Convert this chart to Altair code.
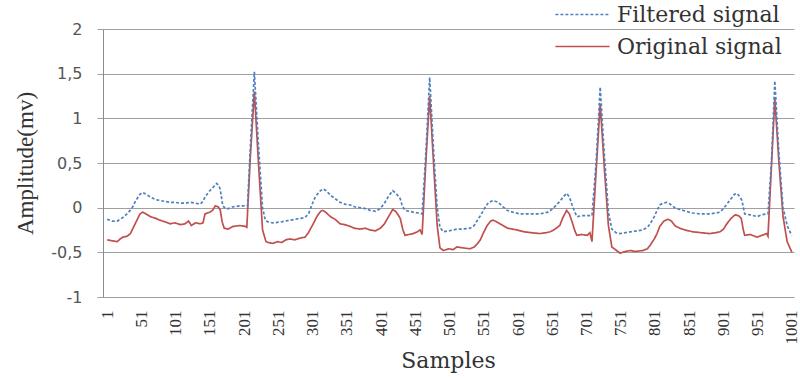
import altair as alt
import pandas as pd

# ---- data ----
orig_samples = [1, 8, 16, 20, 24, 30, 35, 42, 49, 53, 58, 64, 72, 78, 86, 93, 100, 108, 115, 120,
                124, 130, 137, 141, 144, 151, 155, 159, 163, 166, 169, 172, 178, 185, 195, 203, 205,
                210, 216, 222, 228, 233, 236, 243, 250, 256, 262, 268, 275, 283, 290, 295, 302, 308,
                313, 316, 320, 327, 334, 341, 348, 356, 362, 370, 378, 385, 393, 400, 406, 412, 418,
                422, 426, 429, 433, 436, 442, 448, 454, 458, 461, 466, 472, 478, 483, 487, 492, 500,
                506, 512, 520, 531, 537, 541, 546, 550, 556, 561, 565, 572, 579, 586, 593, 600, 610,
                620, 633, 642, 648, 655, 662, 666, 672, 676, 680, 684, 687, 694, 702, 706, 709, 715,
                721, 727, 733, 738, 745, 750, 758, 765, 772, 783, 790, 794, 800, 804, 808, 814, 820,
                825, 830, 837, 845, 856, 868, 881, 890, 896, 901, 906, 912, 918, 923, 927, 930, 932,
                940, 950, 957, 964, 966, 971, 976, 982, 988, 994, 998, 1001]
orig_values = [-0.36, -0.37, -0.38, -0.35, -0.33, -0.32, -0.29, -0.18, -0.07, -0.05, -0.07, -0.10,
               -0.12, -0.14, -0.16, -0.18, -0.17, -0.19, -0.18, -0.15, -0.20, -0.17, -0.18, -0.17,
               -0.07, -0.05, -0.03, 0.02, 0.01, -0.02, -0.16, -0.23, -0.24, -0.21, -0.20, -0.21,
               -0.22, 0.55, 1.30, 0.50, -0.25, -0.38, -0.39, -0.40, -0.38, -0.39, -0.36, -0.35,
               -0.36, -0.34, -0.33, -0.28, -0.18, -0.09, -0.04, -0.03, -0.05, -0.10, -0.13, -0.18,
               -0.19, -0.21, -0.23, -0.24, -0.23, -0.25, -0.26, -0.23, -0.18, -0.10, -0.02, -0.04,
               -0.08, -0.12, -0.25, -0.31, -0.30, -0.29, -0.27, -0.25, -0.30, 0.45, 1.25, 0.45,
               -0.20, -0.45, -0.48, -0.46, -0.47, -0.44, -0.45, -0.46, -0.44, -0.41, -0.36, -0.29,
               -0.20, -0.15, -0.14, -0.17, -0.20, -0.23, -0.24, -0.25, -0.27, -0.28, -0.29, -0.28,
               -0.27, -0.24, -0.20, -0.12, -0.03, -0.07, -0.16, -0.26, -0.31, -0.30, -0.31, -0.28,
               -0.38, 0.40, 1.16, 0.45, -0.20, -0.44, -0.48, -0.51, -0.49, -0.48, -0.49, -0.48,
               -0.46, -0.42, -0.35, -0.29, -0.21, -0.15, -0.13, -0.15, -0.20, -0.23, -0.25, -0.27,
               -0.28, -0.29, -0.28, -0.27, -0.24, -0.18, -0.12, -0.08, -0.09, -0.12, -0.25, -0.31,
               -0.30, -0.33, -0.31, -0.29, -0.32, 0.45, 1.22, 0.50, -0.10, -0.38, -0.45, -0.50]

filt_samples = [1, 8, 16, 24, 30, 37, 43, 49, 53, 58, 64, 72, 78, 86, 93, 100, 108, 115, 122, 130,
                137, 141, 144, 151, 156, 161, 164, 166, 170, 174, 178, 185, 195, 203, 206, 210, 216,
                222, 228, 232, 236, 243, 255, 268, 283, 290, 295, 300, 305, 311, 316, 321, 327, 334,
                341, 348, 356, 362, 370, 378, 385, 393, 400, 406, 412, 418, 423, 429, 432, 436, 442,
                448, 455, 461, 466, 472, 478, 483, 487, 492, 500, 512, 520, 531, 537, 541, 546, 552,
                558, 565, 572, 579, 585, 593, 604, 615, 633, 645, 652, 657, 662, 667, 672, 676, 680,
                684, 687, 694, 702, 709, 715, 721, 727, 733, 738, 744, 750, 758, 765, 775, 783, 790,
                794, 800, 804, 808, 813, 818, 823, 830, 837, 846, 856, 868, 881, 890, 896, 901, 906,
                912, 917, 921, 925, 928, 932, 940, 950, 957, 964, 966, 971, 976, 982, 988, 994, 998,
                1001]
filt_values = [-0.13, -0.15, -0.15, -0.11, -0.07, -0.01, 0.08, 0.15, 0.17, 0.15, 0.12, 0.09, 0.08,
               0.07, 0.06, 0.06, 0.05, 0.05, 0.06, 0.05, 0.04, 0.07, 0.12, 0.19, 0.23, 0.27, 0.25,
               0.21, 0.02, -0.01, -0.01, 0.01, 0.02, 0.02, 0.02, 0.65, 1.52, 0.70, 0.00, -0.14,
               -0.16, -0.17, -0.16, -0.14, -0.12, -0.11, -0.07, 0.03, 0.12, 0.18, 0.21, 0.19, 0.14,
               0.10, 0.06, 0.04, 0.03, 0.01, 0.00, -0.01, -0.03, -0.04, -0.01, 0.05, 0.13, 0.19,
               0.16, 0.10, 0.02, -0.03, -0.04, -0.05, -0.06, -0.07, 0.55, 1.46, 0.60, 0.00, -0.22,
               -0.27, -0.26, -0.24, -0.24, -0.23, -0.20, -0.15, -0.09, -0.01, 0.06, 0.08, 0.06,
               0.01, -0.03, -0.05, -0.07, -0.07, -0.07, -0.05, -0.01, 0.03, 0.07, 0.12, 0.16, 0.12,
               0.03, -0.05, -0.10, -0.09, -0.09, -0.09, 0.50, 1.35, 0.60, -0.05, -0.24, -0.28,
               -0.29, -0.28, -0.27, -0.26, -0.25, -0.22, -0.18, -0.10, -0.03, 0.03, 0.05, 0.06,
               0.04, 0.00, -0.02, -0.04, -0.06, -0.07, -0.07, -0.06, -0.05, -0.01, 0.04, 0.10,
               0.15, 0.16, 0.12, 0.08, -0.07, -0.08, -0.10, -0.08, -0.07, -0.07, 0.50, 1.42, 0.60,
               0.00, -0.20, -0.27, -0.31]

series_names = ["Filtered signal", "Original signal"]
series_colors = ["#4F81BD", "#C0504D"]
x_ticks = list(range(1, 1002, 50))
y_ticks = [-1, -0.5, 0, 0.5, 1, 1.5, 2]

df = pd.concat([
    pd.DataFrame({"sample": orig_samples, "value": orig_values, "series": "Original signal"}),
    pd.DataFrame({"sample": filt_samples, "value": filt_values, "series": "Filtered signal"}),
])

x_enc = alt.X("sample:Q",
              scale=alt.Scale(domain=[-5, 1004], nice=False, zero=False),
              axis=alt.Axis(values=x_ticks, format="d", grid=False, domain=False, ticks=False,
                            labelAngle=270, labelAlign="right", labelBaseline="middle",
                            labelPadding=13, labelFont="Liberation Serif", labelFontSize=17,
                            labelColor="#333333", labelOverlap=False,
                            title="Samples", titleFont="DejaVu Serif", titleFontSize=22,
                            titleFontWeight="normal", titleColor="#333333",
                            titleX=345, titleY=63, titleBaseline="middle", titleAlign="center"))
y_enc = alt.Y("value:Q",
              scale=alt.Scale(domain=[-1, 2], nice=False),
              axis=alt.Axis(values=y_ticks, grid=True, gridColor="#a0a0a0", gridWidth=1,
                            domain=True, domainColor="#8c8c8c", tickSize=6, tickColor="#a0a0a0",
                            labelPadding=15, labelFont="DejaVu Sans", labelFontSize=16,
                            labelColor="#555555",
                            labelExpr="replace(toString(datum.value), '.', ',')",
                            title="Amplitude(mv)", titleFont="Liberation Serif", titleFontSize=23,
                            titleFontWeight="normal", titleColor="#333333", titleAngle=270,
                            titleX=-78, titleY=134, titleAlign="center", titleBaseline="middle"))

legend_def = alt.Legend(title=None, orient="none", legendX=459, legendY=-35,
                        symbolType="M-1.4,0H1.4", symbolSize=1500, symbolStrokeWidth=1.5,
                        labelFont="DejaVu Serif", labelFontSize=22, labelColor="#333333",
                        labelLimit=0, rowPadding=-6, labelOffset=14)
color_enc = alt.Color("series:N",
                      scale=alt.Scale(domain=series_names, range=series_colors),
                      legend=legend_def)
dash_enc = alt.StrokeDash("series:N",
                          scale=alt.Scale(domain=series_names, range=[[3, 2], [1, 0]]),
                          legend=legend_def)

base = alt.Chart(df).mark_line(strokeWidth=1.7).encode(
    x=x_enc, y=y_enc, color=color_enc, strokeDash=dash_enc)

red = base.transform_filter(alt.datum.series == "Original signal")
blue = base.transform_filter(alt.datum.series == "Filtered signal")

chart = alt.layer(red, blue).properties(
    width=691, height=268,
    autosize=alt.AutoSizeParams(type="none"),
    padding={"left": 103, "top": 29, "right": 6, "bottom": 82},
    background="white",
).configure_view(strokeWidth=0)

chart.save("out.html", embed_options={"renderer": "svg", "actions": False})
